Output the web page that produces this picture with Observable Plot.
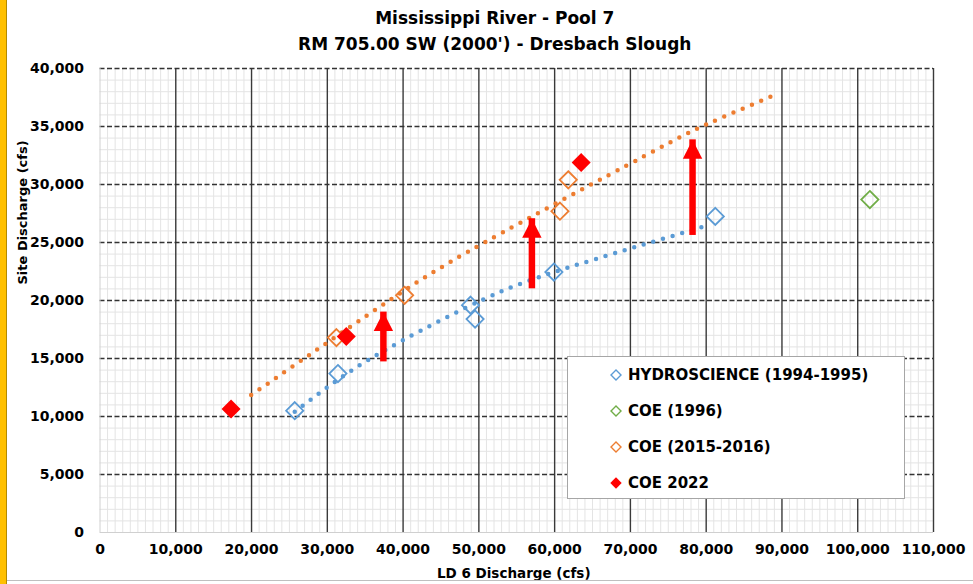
<!DOCTYPE html>
<html>
<head>
<meta charset="utf-8">
<script src="https://cdn.jsdelivr.net/npm/d3@7"></script>
<script src="https://cdn.jsdelivr.net/npm/@observablehq/plot@0.6"></script>
<style>
html,body{margin:0;padding:0;background:#fff;}
#wrap{position:relative;width:973px;height:584px;overflow:hidden;background:#fff;font-family:"DejaVu Sans",sans-serif;}
#wrap svg.chart{position:absolute;left:0;top:0;}
#wrap svg.chart text{font-weight:bold;fill:#000;}
#edge{position:absolute;left:0;top:0;width:6px;height:584px;background:#FFC000;border-right:1px solid #B38A00;}
#baseline{position:absolute;left:7px;top:580px;width:966px;height:1px;background:#BFBFBF;}
#legend{position:absolute;left:567px;top:356px;width:336px;height:141px;border:1px solid #A6A6A6;background:#fff;}
#legend .item{position:absolute;left:41px;height:20px;display:flex;align-items:center;font-weight:bold;font-size:15px;color:#000;white-space:nowrap;}
#legend .item svg{margin-right:5px;}
</style>
</head>
<body>
<div id="wrap"><div id="edge"></div><div id="baseline"></div></div>
<script>
// ---- text ----
const titleLines = ["Mississippi River - Pool 7", "RM 705.00 SW (2000') - Dresbach Slough"];
const xTitle = "LD 6 Discharge (cfs)";
const yTitle = "Site Discharge (cfs)";

// ---- ticks ----
const xTickValues = [0, 10000, 20000, 30000, 40000, 50000, 60000, 70000, 80000, 90000, 100000, 110000];
const yTickValues = [0, 5000, 10000, 15000, 20000, 25000, 30000, 35000, 40000];

// ---- series ----
const seriesNames = ["HYDROSCIENCE (1994-1995)", "COE (1996)", "COE (2015-2016)", "COE 2022"];
const seriesColors = ["#5B9BD5", "#70AD47", "#ED7D31", "#FF0000"];
const seriesFilled = [false, false, false, true];

const hydroX = [25700, 31400, 48900, 49500, 59900, 81200];
const hydroY = [10500, 13700, 19600, 18400, 22450, 27250];
const coe1996X = [101600];
const coe1996Y = [28700];
const coe1516X = [31200, 40200, 60700, 61800];
const coe1516Y = [16800, 20450, 27700, 30400];
const coe2022X = [17300, 32500, 63500];
const coe2022Y = [10650, 16900, 31900];

// dotted trend lines
const hydroTrendX = [25700, 31900, 39500, 50600, 61600, 80100];
const hydroTrendY = [10400, 13400, 16400, 20100, 22800, 26450];
const coeTrendX = [19950, 36800, 50600, 71700, 80100, 88800];
const coeTrendY = [11850, 19400, 24950, 32400, 35200, 37650];

// red arrows
const arrowX = [37400, 57000, 78200];
const arrowFrom = [16000, 22300, 26900];
const arrowTo = [19000, 27050, 33850];

// ---- build rows ----
const rows = (xs, ys) => xs.map((x, i) => ({x, y: ys[i]}));
const hydro = rows(hydroX, hydroY);
const coe1996 = rows(coe1996X, coe1996Y);
const coe1516 = rows(coe1516X, coe1516Y);
const coe2022 = rows(coe2022X, coe2022Y);
const hydroTrend = rows(hydroTrendX, hydroTrendY);
const coeTrend = rows(coeTrendX, coeTrendY);
const arrows = arrowX.map((x, i) => ({x, from: arrowFrom[i], to: arrowTo[i]}));

const minorX = d3.range(1000, 110000, 1000).filter(v => v % 10000 !== 0);
const minorY = d3.range(1000, 40000, 1000).filter(v => v % 5000 !== 0);
const majorX = xTickValues.filter(v => v > 0);
const majorY = yTickValues.filter(v => v > 0);
const fmt = d3.format(",");

const diamond = {draw(ctx, size) {
  const r = Math.sqrt(size / Math.PI);
  ctx.moveTo(0, -r); ctx.lineTo(r, 0); ctx.lineTo(0, r); ctx.lineTo(-r, 0); ctx.closePath();
}};
const arrowHead = {draw(ctx) {
  ctx.moveTo(0, 0); ctx.lineTo(9.7, 19); ctx.lineTo(-9.7, 19); ctx.closePath();
}};

const chart = Plot.plot({
  width: 973,
  height: 584,
  marginLeft: 99.5,
  marginRight: 40,
  marginTop: 68,
  marginBottom: 52,
  style: {fontFamily: "'DejaVu Sans', sans-serif", fontSize: "14px", fontWeight: "bold", color: "#000", background: "transparent"},
  x: {domain: [0, 110000]},
  y: {domain: [0, 40000]},
  marks: [
    Plot.ruleX(minorX, {stroke: "#E4E4E4", strokeWidth: 1}),
    Plot.ruleY(minorY, {stroke: "#E4E4E4", strokeWidth: 1}),
    Plot.ruleX(majorX, {stroke: "#3A3A3A", strokeWidth: 1.4}),
    Plot.ruleY(majorY, {stroke: "#333", strokeWidth: 1.3, strokeDasharray: "5,2.5"}),
    Plot.ruleX([0], {stroke: "#D0D0D0"}),
    Plot.ruleY([0], {stroke: "#D0D0D0"}),
    Plot.axisX({ticks: xTickValues, tickFormat: fmt, tickSize: 0, tickPadding: 12, label: null, fontSize: 14, fontWeight: "bold"}),
    Plot.axisY({ticks: yTickValues, tickFormat: fmt, tickSize: 0, tickPadding: 16, label: null, fontSize: 14, fontWeight: "bold"}),
    Plot.line(hydroTrend, {x: "x", y: "y", stroke: seriesColors[0], strokeWidth: 4.5, strokeDasharray: "0,10", strokeLinecap: "round", curve: "natural"}),
    Plot.line(coeTrend, {x: "x", y: "y", stroke: seriesColors[2], strokeWidth: 4.5, strokeDasharray: "0,10", strokeLinecap: "round", curve: "natural"}),
    Plot.dot(hydro, {x: "x", y: "y", symbol: diamond, r: 8.6, stroke: seriesColors[0], strokeWidth: 1.8, fill: "none"}),
    Plot.dot(coe1996, {x: "x", y: "y", symbol: diamond, r: 8.6, stroke: seriesColors[1], strokeWidth: 1.8, fill: "none"}),
    Plot.dot(coe1516, {x: "x", y: "y", symbol: diamond, r: 8.6, stroke: seriesColors[2], strokeWidth: 1.8, fill: "none"}),
    Plot.dot(coe2022, {x: "x", y: "y", symbol: diamond, r: 9.5, fill: seriesColors[3], stroke: "none"}),
    Plot.ruleX(arrows, {x: "x", y1: "from", y2: "to", stroke: "#FF0000", strokeWidth: 6.5, insetTop: 15}),
    Plot.dot(arrows, {x: "x", y: "to", symbol: arrowHead, fill: "#FF0000", stroke: "none"}),
    Plot.text([titleLines[0]], {text: d => d, frameAnchor: "top", dx: -22, dy: -50, fontSize: 17, fontWeight: "bold", lineAnchor: "middle"}),
    Plot.text([titleLines[1]], {text: d => d, frameAnchor: "top", dx: -22, dy: -24, fontSize: 17, fontWeight: "bold", lineAnchor: "middle"}),
    Plot.text([xTitle], {text: d => d, frameAnchor: "bottom", dx: -3, dy: 41, fontSize: 13.5, fontWeight: "bold", lineAnchor: "middle"}),
    Plot.text([yTitle], {text: d => d, frameAnchor: "left", rotate: -90, dx: -77, dy: -16, fontSize: 13, fontWeight: "bold", lineAnchor: "middle"})
  ]
});
chart.classList.add("chart");
const wrap = document.getElementById("wrap");
wrap.insertBefore(chart, wrap.firstChild);

// ---- legend (HTML overlay) ----
const legend = document.createElement("div");
legend.id = "legend";
seriesNames.forEach((name, i) => {
  const item = document.createElement("div");
  item.className = "item";
  item.style.top = (8 + i * 36) + "px";
  const c = seriesColors[i];
  const sym = seriesFilled[i]
    ? `<polygon points="7,1.3 12.7,7 7,12.7 1.3,7" fill="${c}"/>`
    : `<polygon points="7,2 12,7 7,12 2,7" fill="none" stroke="${c}" stroke-width="1.4"/>`;
  item.innerHTML = `<svg width="14" height="14" viewBox="0 0 14 14">${sym}</svg><span>${name}</span>`;
  legend.appendChild(item);
});
wrap.appendChild(legend);
</script>
</body>
</html>
